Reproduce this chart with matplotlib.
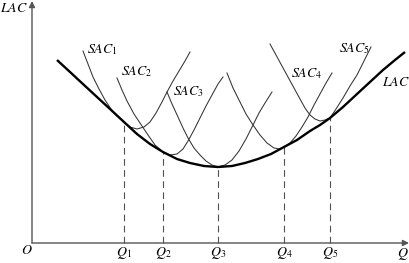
import numpy as np
import matplotlib
matplotlib.use('Agg')
import matplotlib.pyplot as plt

plt.rcParams['mathtext.fontset'] = 'stix'
plt.rcParams['font.family'] = ['Liberation Serif', 'DejaVu Serif']

# Long-run average cost curve (quantity, cost)
lac_q = [25, 38, 52, 65, 78, 92, 105, 118, 131, 145, 158, 172, 186, 200,
         213, 226, 239, 252, 265, 278, 288, 298, 311, 325, 338, 351, 363, 373]
lac_c = [183, 171, 158, 146, 134, 121, 109, 99, 91, 84, 80, 77, 76, 77,
         80, 84, 89, 96, 103, 112, 118, 125, 136, 149, 161, 173, 183, 191]

# Short-run average cost curves
sac1_q = [51, 56, 61, 67, 73, 79, 85, 92, 98, 105, 112, 118, 124, 130, 135, 141, 147, 153, 158]
sac1_c = [192, 179, 166, 154, 143, 134, 127, 121, 116, 114, 116, 121, 130, 141, 151, 162, 172, 182, 191]

sac2_q = [85, 90, 95, 102, 110, 116, 123, 131, 138, 145, 151, 156, 162, 168, 174, 180, 186, 191]
sac2_c = [165, 153, 142, 129, 117, 108, 98, 91, 88, 89, 94, 102, 113, 125, 137, 148, 159, 166]

sac3_q = [135, 140, 146, 151, 156, 162, 168, 174, 180, 186, 193, 200, 207, 214, 221, 227, 233, 240]
sac3_c = [151, 139, 126, 115, 105, 95, 88, 82, 78, 76, 78, 83, 92, 104, 118, 130, 140, 151]

sac4_q = [195, 201, 208, 214, 221, 228, 235, 242, 248, 252, 258, 264, 270, 276, 282, 288, 294, 300]
sac4_c = [170, 155, 141, 129, 118, 108, 100, 95, 94, 96, 100, 107, 116, 126, 138, 149, 160, 170]

sac5_q = [238, 244, 250, 256, 262, 268, 273, 278, 283, 288, 293, 298, 304, 311, 318, 325, 330, 335, 339]
sac5_c = [199, 188, 177, 166, 155, 144, 135, 128, 124, 122, 123, 125, 134, 145, 157, 168, 178, 188, 196]

# Tangency points
q_pts = [92, 131, 186, 252, 298]
q_cost = [121, 91, 76, 96, 125]
q_labels = [r'$Q_1$', r'$Q_2$', r'$Q_3$', r'$Q_4$', r'$Q_5$']

fig = plt.figure(figsize=(4.1, 2.63), dpi=100)
ax = fig.add_axes([0, 0, 1, 1])
ax.set_xlim(-32, 378)
ax.set_ylim(-20, 243)
ax.axis('off')

# axes with arrows
axcol = '#555555'
ax.annotate('', xy=(377, 0), xytext=(0, 0),
            arrowprops=dict(arrowstyle='-|>', color=axcol, lw=1.0,
                            mutation_scale=9, shrinkA=0, shrinkB=0))
ax.annotate('', xy=(0, 242), xytext=(0, 0),
            arrowprops=dict(arrowstyle='-|>', color=axcol, lw=1.0,
                            mutation_scale=9, shrinkA=0, shrinkB=0))

# dashed drop lines
for q, c in zip(q_pts, q_cost):
    ax.plot([q, q], [0, c], color='#505050', lw=0.8, ls=(0, (6, 4)))

# short run curves
for qq, cc in [(sac1_q, sac1_c), (sac2_q, sac2_c), (sac3_q, sac3_c),
               (sac4_q, sac4_c), (sac5_q, sac5_c)]:
    ax.plot(qq, cc, color='#333333', lw=0.75)

# long run curve
ax.plot(lac_q, lac_c, color='black', lw=1.7, solid_capstyle='butt')

fs = 10
ax.text(-18, 234, r'$LAC$', fontsize=fs, ha='center', va='center')
ax.text(70, 193, r'$SAC_1$', fontsize=fs, ha='center', va='center')
ax.text(105, 171, r'$SAC_2$', fontsize=fs, ha='center', va='center')
ax.text(156, 151, r'$SAC_3$', fontsize=fs, ha='center', va='center')
ax.text(275, 169, r'$SAC_4$', fontsize=fs, ha='center', va='center')
ax.text(322, 194, r'$SAC_5$', fontsize=fs, ha='center', va='center')
ax.text(364, 161, r'$LAC$', fontsize=fs, ha='center', va='center')
ax.text(-5, -8, r'$O$', fontsize=fs, ha='center', va='center')
for q, lab in zip(q_pts, q_labels):
    ax.text(q, -10, lab, fontsize=fs, ha='center', va='center')
ax.text(371, -11, r'$Q$', fontsize=fs, ha='center', va='center')

fig.savefig('out.png', dpi=100)
